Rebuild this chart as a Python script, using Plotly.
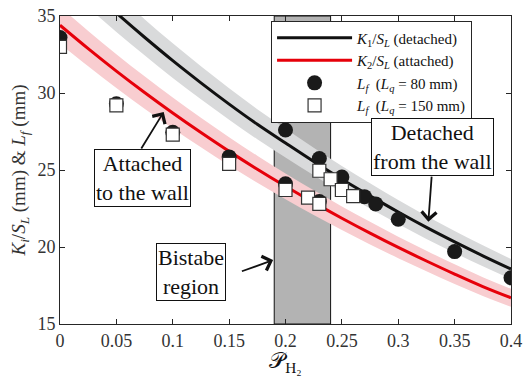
import plotly.graph_objects as go

# ---------------- data ----------------
ph2_curve = [0.0, 0.025, 0.05, 0.075, 0.1, 0.125, 0.15, 0.175, 0.2,
             0.225, 0.25, 0.275, 0.3, 0.325, 0.35, 0.375, 0.4]
k1_sl = [38.6, 36.85, 35.2, 33.62, 32.1, 30.66, 29.28, 27.97, 26.75,
         25.55, 24.4, 23.32, 22.27, 21.27, 20.33, 19.43, 18.57]
k2_sl = [34.4, 32.88, 31.42, 30.03, 28.7, 27.43, 26.21, 25.05, 23.94,
         22.88, 21.87, 20.9, 19.97, 19.09, 18.24, 17.43, 16.7]
band_frac = 0.035

ph2_80 = [0.0, 0.05, 0.1, 0.15, 0.2, 0.2, 0.23, 0.23, 0.25, 0.27, 0.28, 0.3, 0.35, 0.4]
lf_80 = [33.6, 29.3, 27.45, 25.85, 27.6, 24.1, 25.75, 22.95, 24.55, 23.27, 22.8, 21.8, 19.7, 18.0]

ph2_150 = [0.0, 0.05, 0.1, 0.15, 0.2, 0.22, 0.23, 0.23, 0.24, 0.25, 0.26]
lf_150 = [33.0, 29.2, 27.3, 25.4, 23.7, 23.2, 24.95, 22.8, 24.4, 23.7, 23.3]

bistable = [0.19, 0.24]

x_ticks = [0, 0.05, 0.1, 0.15, 0.2, 0.25, 0.3, 0.35, 0.4]
x_ticklabels = ["0", "0.05", "0.1", "0.15", "0.2", "0.25", "0.3", "0.35", "0.4"]
y_ticks = [15, 20, 25, 30, 35]
x_range = [0, 0.4]
y_range = [15, 35]

FONT = "Liberation Serif, Times New Roman, serif"
AX = "#262626"

fig = go.Figure()

# uncertainty bands
for vals, col in [(k1_sl, "#d9dadb"), (k2_sl, "#f8cdd0")]:
    lo = [v * (1 - band_frac) for v in vals]
    hi = [v * (1 + band_frac) for v in vals]
    fig.add_trace(go.Scatter(x=ph2_curve, y=lo, mode="lines", line=dict(width=0, color=col, shape="spline"),
                             showlegend=False, hoverinfo="skip"))
    fig.add_trace(go.Scatter(x=ph2_curve, y=hi, mode="lines", line=dict(width=0, color=col, shape="spline"),
                             fill="tonexty", fillcolor=col, showlegend=False, hoverinfo="skip"))

fig.add_trace(go.Scatter(x=ph2_curve, y=k1_sl, mode="lines", line=dict(color="#111111", width=3, shape="spline"),
                         name="<i>K</i><sub>1</sub>/<i>S</i><sub><i>L</i></sub> (detached)"))
fig.add_trace(go.Scatter(x=ph2_curve, y=k2_sl, mode="lines", line=dict(color="#e6000a", width=3, shape="spline"),
                         name="<i>K</i><sub>2</sub>/<i>S</i><sub><i>L</i></sub> (attached)"))
fig.add_trace(go.Scatter(x=ph2_80, y=lf_80, mode="markers",
                         marker=dict(symbol="circle", size=15, color="#1a1a1a", line=dict(width=0)),
                         name="<i>L</i><sub><i>f</i></sub>  (<i>L</i><sub><i>q</i></sub> = 80 mm)"))
fig.add_trace(go.Scatter(x=ph2_150, y=lf_150, mode="markers",
                         marker=dict(symbol="square", size=13, color="white", line=dict(width=1.2, color="#333333")),
                         name="<i>L</i><sub><i>f</i></sub>  (<i>L</i><sub><i>q</i></sub> = 150 mm)"))

# bistable region
fig.add_shape(type="rect", xref="x", yref="y", x0=bistable[0], x1=bistable[1], y0=y_range[0], y1=y_range[1],
              fillcolor="#b3b3b3", line=dict(color="#111111", width=1), layer="below")

# arrows (tip, tail)
arrows = [((0.092, 28.77), (0.0713, 26.3)),
          ((0.189, 19.15), (0.160, 18.39)),
          ((0.3267, 21.64), (0.3297, 24.67))]
for (tx, ty), (sx, sy) in arrows:
    fig.add_annotation(x=tx, y=ty, ax=sx, ay=sy, xref="x", yref="y", axref="x", ayref="y",
                       text="", showarrow=True, arrowhead=4, arrowsize=1.6, arrowwidth=1.8,
                       arrowcolor="#111111")

boxes = [(0.0731, 24.47, "Attached<br>to the wall"),
         (0.116, 18.39, "Bistabe<br>region"),
         (0.3305, 26.5, "Detached<br>from the wall")]
for bx, by, txt in boxes:
    fig.add_annotation(x=bx, y=by, xref="x", yref="y", text=txt, showarrow=False,
                       font=dict(family=FONT, size=22, color="#111111"),
                       bgcolor="white", bordercolor="#111111", borderwidth=1, borderpad=1)

axis_common = dict(showline=True, linecolor=AX, linewidth=1, mirror="ticks", ticks="inside",
                   ticklen=5, tickcolor=AX, showgrid=False, zeroline=False, automargin=False,
                   tickfont=dict(family=FONT, size=18, color="#333333"))

fig.update_xaxes(range=x_range, tickvals=x_ticks, ticktext=x_ticklabels,
                 title=dict(text="𝒫<sub>H₂</sub>", font=dict(family=FONT, size=22, color="#111111"), standoff=4),
                 **axis_common)
fig.update_yaxes(range=y_range, tickvals=y_ticks,
                 title=dict(text="<i>K</i><sub><i>i</i></sub>/<i>S</i><sub><i>L</i></sub> (mm) &amp; <i>L</i><sub><i>f</i></sub> (mm)",
                            font=dict(family=FONT, size=19, color="#333333"), standoff=6),
                 **axis_common)

fig.update_layout(
    width=526, height=376,
    margin=dict(l=60, r=15, t=16, b=52),
    paper_bgcolor="white", plot_bgcolor="white",
    font=dict(family=FONT, color="#111111"),
    legend=dict(x=0.468, y=0.985, xanchor="left", yanchor="top",
                bgcolor="white", bordercolor=AX, borderwidth=1,
                font=dict(family=FONT, size=15, color="#111111"),
                itemwidth=75, tracegroupgap=0, traceorder="normal"),
)

fig.write_html("out.html")
